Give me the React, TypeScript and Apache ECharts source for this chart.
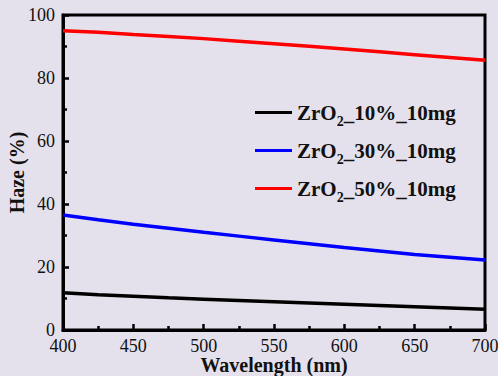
import React, { useEffect, useRef } from "react";
import * as echarts from "echarts";

const wavelengths = [400, 425, 450, 475, 500, 525, 550, 575, 600, 625, 650, 675, 700];
const zr10 = [11.8, 11.2, 10.7, 10.2, 9.8, 9.4, 9.0, 8.6, 8.2, 7.8, 7.4, 7.0, 6.6];
const zr30 = [36.5, 35.0, 33.6, 32.3, 31.0, 29.8, 28.6, 27.4, 26.2, 25.1, 24.0, 23.1, 22.2];
const zr50 = [95.0, 94.5, 93.8, 93.2, 92.5, 91.7, 90.9, 90.1, 89.2, 88.3, 87.4, 86.5, 85.6];
const seriesNames = ["ZrO2_10%_10mg", "ZrO2_30%_10mg", "ZrO2_50%_10mg"];
const seriesColors = ["#000000", "#0000ff", "#ff0000"];

const FONT = "Liberation Serif";

export default function App() {
  const ref = useRef<HTMLDivElement>(null);
  useEffect(() => {
    if (!ref.current) return;
    const chart = echarts.init(ref.current, null, { renderer: "svg" });
    const data = [zr10, zr30, zr50];
    chart.setOption({
      animation: false,
      backgroundColor: "#e5e1ec",
      textStyle: { fontFamily: FONT },
      grid: {
        left: 63,
        top: 15,
        right: 13,
        bottom: 46,
        outerBoundsMode: "none",
        containLabel: false,
        show: true,
        borderColor: "#000",
        borderWidth: 3,
        backgroundColor: "transparent",
      },
      legend: {
        orient: "vertical",
        left: 250,
        top: 97,
        itemGap: 12,
        itemWidth: 37,
        itemHeight: 3,
        icon: "rect",
        data: seriesNames,
        formatter: (name: string) => {
          const rest = name.replace("ZrO2", "");
          return "{a|ZrO}{s|2}{a|" + rest + "}";
        },
        textStyle: {
          fontFamily: FONT,
          rich: {
            a: { fontFamily: FONT, fontWeight: "bold", fontSize: 21, color: "#111", height: 22, verticalAlign: "middle" },
            s: { fontFamily: FONT, fontWeight: "bold", fontSize: 14, color: "#111", padding: [17, 0, 0, 0], verticalAlign: "middle" },
          },
        },
      },
      xAxis: {
        type: "value",
        min: 400,
        max: 700,
        interval: 50,
        name: "Wavelength (nm)",
        nameLocation: "middle",
        nameGap: 26,
        nameMoveOverlap: false,
        nameTextStyle: { fontFamily: FONT, fontWeight: "bold", fontSize: 20, lineHeight: 18, color: "#111" },
        axisLine: { show: true, lineStyle: { color: "#000", width: 3 } },
        axisTick: { show: true, inside: true, length: 6, lineStyle: { color: "#000", width: 2.5 } },
        minorTick: { show: true, splitNumber: 2, length: 4, lineStyle: { color: "#000", width: 2.5 } },
        axisLabel: { fontFamily: FONT, fontSize: 18, lineHeight: 15, color: "#111", margin: 8 },
        splitLine: { show: false },
      },
      yAxis: {
        type: "value",
        min: 0,
        max: 100,
        interval: 20,
        name: "Haze (%)",
        nameLocation: "middle",
        nameGap: 36,
        nameMoveOverlap: false,
        nameTextStyle: { fontFamily: FONT, fontWeight: "bold", fontSize: 20, color: "#111" },
        axisLine: { show: true, lineStyle: { color: "#000", width: 3 } },
        axisTick: { show: true, inside: true, length: 6, lineStyle: { color: "#000", width: 2.5 } },
        minorTick: { show: true, splitNumber: 2, length: 4, lineStyle: { color: "#000", width: 2.5 } },
        axisLabel: { fontFamily: FONT, fontSize: 18, lineHeight: 15, color: "#111", margin: 8 },
        splitLine: { show: false },
      },
      series: seriesNames.map((name, i) => ({
        name,
        type: "line",
        showSymbol: false,
        symbol: "none",
        color: seriesColors[i],
        lineStyle: { color: seriesColors[i], width: 3.5 },
        data: wavelengths.map((w, j) => [w, data[i][j]]),
      })),
    });
    return () => chart.dispose();
  }, []);
  return (
    <div
      ref={ref}
      style={{ position: "fixed", left: 0, top: 0, width: 498, height: 376 }}
    />
  );
}
